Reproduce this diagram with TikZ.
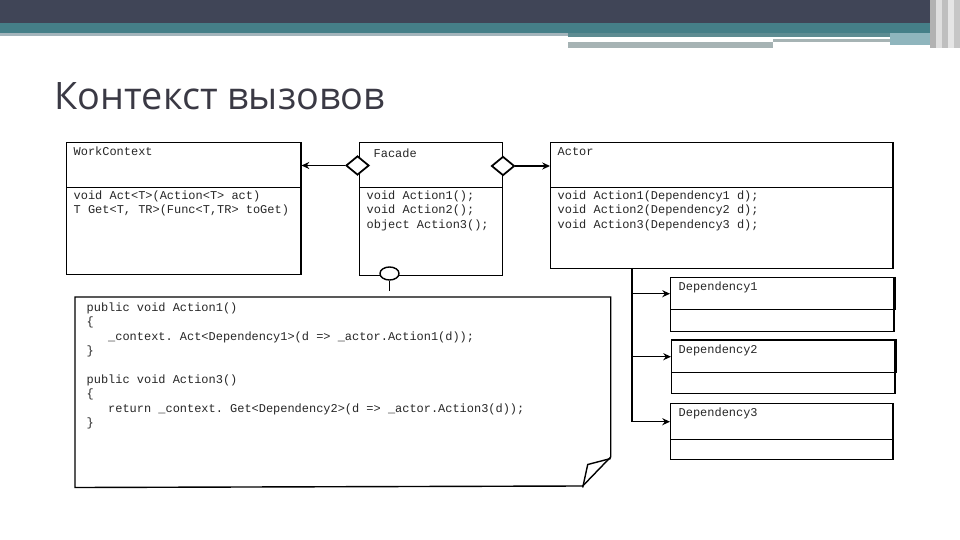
\documentclass[tikz,border=0pt]{standalone}
\usepackage{fontspec}
\setmainfont{Open Sans}
\setmonofont{Liberation Mono}
\usetikzlibrary{positioning,arrows.meta,shapes.geometric}
\definecolor{barDark}{HTML}{404557}
\definecolor{barTeal}{HTML}{457F88}
\definecolor{barLight}{HTML}{A3B4BB}
\definecolor{barMid}{HTML}{5E8C92}
\definecolor{barGray}{HTML}{A6B3B4}
\definecolor{barPale}{HTML}{8FB5BD}
\definecolor{titleInk}{HTML}{3A3944}
\begin{document}
\begin{tikzpicture}[x=0.01cm, y=-0.01cm, >={Stealth[length=2.2pt,width=2pt]},
  box/.style={draw, inner sep=0, anchor=north west, line width=0.4pt},
  mono/.style={font=\ttfamily\fontsize{3.4}{4.1}\selectfont, inner sep=0, align=left, text=black!85},
  dmd/.style={diamond, draw, fill=white, inner sep=0, line width=0.5pt,
    minimum width=0.23cm, minimum height=0.19cm}]
  \useasboundingbox (0,0) rectangle (960,540);
  % slide header
  \fill[barDark] (0,0) rectangle (960,23);
  \fill[barTeal] (0,23) rectangle (960,33);
  \fill[barLight] (0,33) rectangle (568,36);
  \fill[barMid] (568,33) rectangle (890,37);
  \fill[barGray] (773,39) rectangle (890,42);
  \fill[barGray] (568,42) rectangle (773,48);
  \fill[barPale] (890,33) rectangle (930,45);
  \foreach \x/\c in {930/gray!60, 936/gray!25, 942/gray!50, 948/gray!20, 954/gray!45}
    \fill[\c] (\x,0) rectangle ++(6,48);
  \node[font=\fontsize{10.75}{12}\selectfont, text=titleInk, inner sep=0, anchor=base west]
    (title) at (54,110) {Контекст вызовов};
  % classes
  \node[box, minimum width=2.34cm, minimum height=0.45cm] (wc) at (66,142) {};
  \node[box, minimum width=2.34cm, minimum height=0.87cm] (wcb) at (66,187) {};
  \node[box, minimum width=1.43cm, minimum height=0.45cm] (fc) at (359,142) {};
  \node[box, minimum width=1.43cm, minimum height=0.88cm] (fcb) at (359,187) {};
  \node[box, minimum width=3.42cm, minimum height=0.45cm] (ac) at (550,142) {};
  \node[box, minimum width=3.42cm, minimum height=0.81cm] (acb) at (550,187) {};
  \node[mono, anchor=base west] (wcName) at (73,156) {WorkContext};
  \node[mono, anchor=base west] (fcName) at (373,158) {Facade};
  \node[mono, anchor=base west] (acName) at (557,156) {Actor};
  \node[mono, below right=0.03cm and 0.07cm of wcb.north west] (wcOps)
    {void Act<T>(Action<T> act)\\T Get<T, TR>(Func<T,TR> toGet)};
  \node[mono, below right=0.03cm and 0.07cm of fcb.north west] (fcOps)
    {void Action1();\\void Action2();\\object Action3();};
  \node[mono, below right=0.03cm and 0.07cm of acb.north west] (acOps)
    {void Action1(Dependency1 d);\\void Action2(Dependency2 d);\\void Action3(Dependency3 d);};
  % dependencies
  \node[box, minimum width=2.23cm, minimum height=0.32cm] (dep1) at (670,277) {};
  \node[box, minimum width=2.23cm, minimum height=0.22cm] (dep1b) at (670,309) {};
  \node[box, minimum width=2.23cm, minimum height=0.32cm] (dep2) at (671,340) {};
  \node[box, minimum width=2.23cm, minimum height=0.21cm] (dep2b) at (671,372) {};
  \node[box, minimum width=2.22cm, minimum height=0.36cm] (dep3) at (670,403) {};
  \node[box, minimum width=2.22cm, minimum height=0.20cm] (dep3b) at (670,439) {};
  \draw[line width=0.8pt] (dep1.north east) -- (dep1.south east);
  \draw[line width=0.8pt] (dep2.north west) -- (dep2.north east) -- (dep2.south east);
  \foreach \i/\y in {1/291, 2/354, 3/417}
    \node[mono, anchor=base west] (dep\i Name) at (678,\y) {Dependency\i};
  % associations
  \node[dmd] (dmdL) at (357.5,165.5) {};
  \node[dmd] (dmdR) at (503,166) {};
  \draw[->, line width=0.5pt] (dmdL) -- (dmdL -| wc.east);
  \draw[->, line width=0.5pt] (dmdR) -- (dmdR -| ac.west);
  \coordinate (trunk) at (632,268);
  \draw (trunk) -- (trunk |- dep3.west);
  \foreach \i in {1,2,3} \draw[->] (trunk |- dep\i.west) -- (dep\i.west);
  % interface port and note
  \node[ellipse, draw, fill=white, inner sep=0, minimum width=0.19cm, minimum height=0.13cm]
    (port) at (389.5,273.5) {};
  \node[inner sep=0, minimum width=5.34cm, minimum height=1.89cm, anchor=north west] (note) at (75,297) {};
  \draw[dashed] (port) -- (port |- note.north);
  \draw (note.north west) -- (note.north east) -- ++(0,160) -- ++(-28,29) -- (note.south west) -- cycle;
  \draw (note.south east) ++(0,-29) -- ++(-23,6) -- ++(-5,23);
  \node[mono, anchor=north west] (noteCode) at (86,302)
    {public void Action1()\\
     \{\\
     \hspace*{1.8em}\_context. Act<Dependency1>(d => \_actor.Action1(d));\\
     \}\\[4.1pt]
     public void Action3()\\
     \{\\
     \hspace*{1.8em}return \_context. Get<Dependency2>(d => \_actor.Action3(d));\\
     \}};
\end{tikzpicture}
\end{document}
